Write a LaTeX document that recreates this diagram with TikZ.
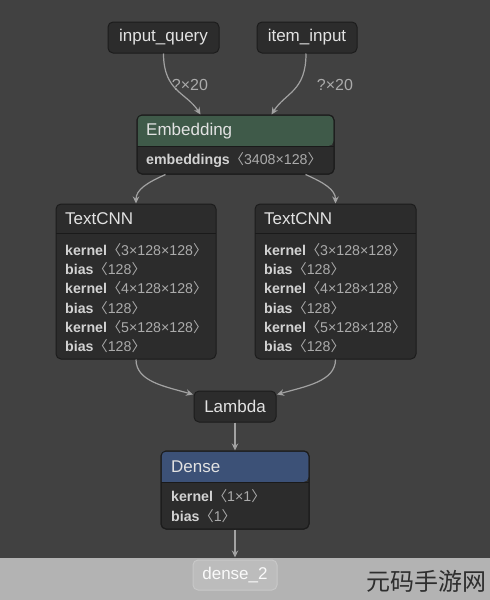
\documentclass[tikz,border=0pt]{standalone}
\usepackage{fontspec}
\setmainfont{Liberation Sans}
\newfontfamily\cjkf{Noto Sans CJK SC}
\usetikzlibrary{arrows.meta}
\definecolor{bg}{HTML}{414141}
\definecolor{strip}{HTML}{B3B3B3}
\definecolor{boxfill}{HTML}{2C2C2C}
\definecolor{boxline}{HTML}{1C1C1C}
\definecolor{sepline}{HTML}{1A1A1A}
\definecolor{titletxt}{HTML}{E2E2E2}
\definecolor{keytxt}{HTML}{D2D2D2}
\definecolor{valtxt}{HTML}{ABABAB}
\definecolor{greenhead}{HTML}{3F5A49}
\definecolor{bluehead}{HTML}{3C5177}
\definecolor{arrowc}{HTML}{A2A2A2}
\definecolor{fadefill}{HTML}{BCBCBC}
\definecolor{fadeline}{HTML}{C8C8C8}
\definecolor{wm}{HTML}{2E2E2E}
\newcommand\ab[1]{{\cjkf 〈}#1{\cjkf 〉}}
\newcommand\kv[2]{{\bfseries\color{keytxt}#1}{\color{valtxt}\ab{#2}}}
\tikzset{
  box/.style={draw=boxline, line width=1pt, fill=boxfill, rounded corners=5pt, inner sep=0pt},
  simplebox/.style={box, text=titletxt, font=\fontsize{17}{19}\selectfont, minimum height=31pt},
  title/.style={anchor=west, inner sep=0pt, text=titletxt, font=\fontsize{17}{19}\selectfont},
  row/.style={anchor=west, inner sep=0pt, font=\fontsize{14.2}{16}\selectfont},
  elabel/.style={inner sep=0pt, text=valtxt, font=\fontsize{16}{18}\selectfont},
  conn/.style={draw=arrowc, line width=1.2pt, -{Stealth[length=7pt,width=6.5pt]}},
  sep/.style={draw=sepline, line width=1pt},
}
\begin{document}
\begin{tikzpicture}[x=1pt,y=-1pt]
\useasboundingbox (0,0) rectangle (490,600);
\fill[bg] (0,0) rectangle (490,558);
\fill[strip] (0,558) rectangle (490,600);

% input nodes
\node[simplebox, minimum width=111pt] (iq) at (163.5,37.5) {input\_query};
\node[simplebox, minimum width=100pt] (ii) at (307,37.5) {item\_input};

% Embedding
\node[box, minimum width=197pt, minimum height=59pt] (emb) at (235.5,144.5) {};
\fill[greenhead, rounded corners=5pt] (137.5,115.5) -- (333.5,115.5) -- (333.5,146) [sharp corners] -- (137.5,146) -- cycle;
\draw[boxline, line width=1pt, rounded corners=5pt] (137,115) rectangle (334,174);
\draw[sep] (137,146) -- (334,146);
\node[title] (embt) at (146,131) {Embedding};
\node[row] (embr) at (146,160) {\kv{embeddings}{3408×128}};

% TextCNN left
\node[box, minimum width=160pt, minimum height=155pt] (tl) at (136,281.5) {};
\draw[sep] (56,233) -- (216,233);
\node[title] (tlt) at (65,219) {TextCNN};
\node[row] (tl1) at (65,250) {\kv{kernel}{3×128×128}};
\node[row] (tl2) at (65,269) {\kv{bias}{128}};
\node[row] (tl3) at (65,288.5) {\kv{kernel}{4×128×128}};
\node[row] (tl4) at (65,308) {\kv{bias}{128}};
\node[row] (tl5) at (65,327) {\kv{kernel}{5×128×128}};
\node[row] (tl6) at (65,346) {\kv{bias}{128}};

% TextCNN right
\node[box, minimum width=161pt, minimum height=155pt] (tr) at (335.5,281.5) {};
\draw[sep] (255,233) -- (416,233);
\node[title] (trt) at (264,219) {TextCNN};
\node[row] (tr1) at (264,250) {\kv{kernel}{3×128×128}};
\node[row] (tr2) at (264,269) {\kv{bias}{128}};
\node[row] (tr3) at (264,288.5) {\kv{kernel}{4×128×128}};
\node[row] (tr4) at (264,308) {\kv{bias}{128}};
\node[row] (tr5) at (264,327) {\kv{kernel}{5×128×128}};
\node[row] (tr6) at (264,346) {\kv{bias}{128}};

% Lambda
\node[simplebox, minimum width=82pt] (lam) at (235,406.5) {Lambda};

% Dense
\node[box, minimum width=148pt, minimum height=78pt] (den) at (235,490) {};
\fill[bluehead, rounded corners=5pt] (161.5,451.5) -- (308.5,451.5) -- (308.5,482) [sharp corners] -- (161.5,482) -- cycle;
\draw[boxline, line width=1pt, rounded corners=5pt] (161,451) rectangle (309,529);
\draw[sep] (161,482) -- (309,482);
\node[title] (dent) at (171,467) {Dense};
\node[row] (den1) at (171,496) {\kv{kernel}{1×1}};
\node[row] (den2) at (171,516) {\kv{bias}{1}};

% dense_2 (faded)
\node[draw=fadeline, fill=fadefill, line width=1pt, rounded corners=5pt, minimum width=84pt, minimum height=30pt, inner sep=0pt, text=white!92!fadefill, font=\fontsize{17}{19}\selectfont] (d2) at (235,575) {dense\_2};

% connectors
\draw[conn] (iq.south) .. controls +(0,38) and +(-14,-22) .. ([xshift=-35pt]emb.north);
\draw[conn] ([xshift=-1pt]ii.south) .. controls +(0,38) and +(14,-22) .. ([xshift=36pt]emb.north);
\node[elabel] (l1) at (190,85) {?×20};
\node[elabel] (l2) at (335,85) {?×20};

\draw[conn] ([xshift=-70pt]emb.south) .. controls +(-18,8) and +(0,-14) .. (tl.north);
\draw[conn] ([xshift=70pt]emb.south) .. controls +(18,8) and +(0,-14) .. (tr.north);

\draw[conn] (tl.south) .. controls +(0,22) and +(-28,-8) .. ([xshift=-42pt,yshift=-4pt]lam.north);
\draw[conn] (tr.south) .. controls +(0,22) and +(28,-8) .. ([xshift=42pt,yshift=-4pt]lam.north);

\draw[conn] (lam.south) -- (den.north);
\draw[conn] (den.south) -- ([yshift=2pt]d2.north);

% watermark
\node[anchor=west, inner sep=0pt, text=wm, font=\cjkf\fontsize{24}{26}\selectfont] (wmk) at (366,581) {元码手游网};
\end{tikzpicture}
\end{document}
